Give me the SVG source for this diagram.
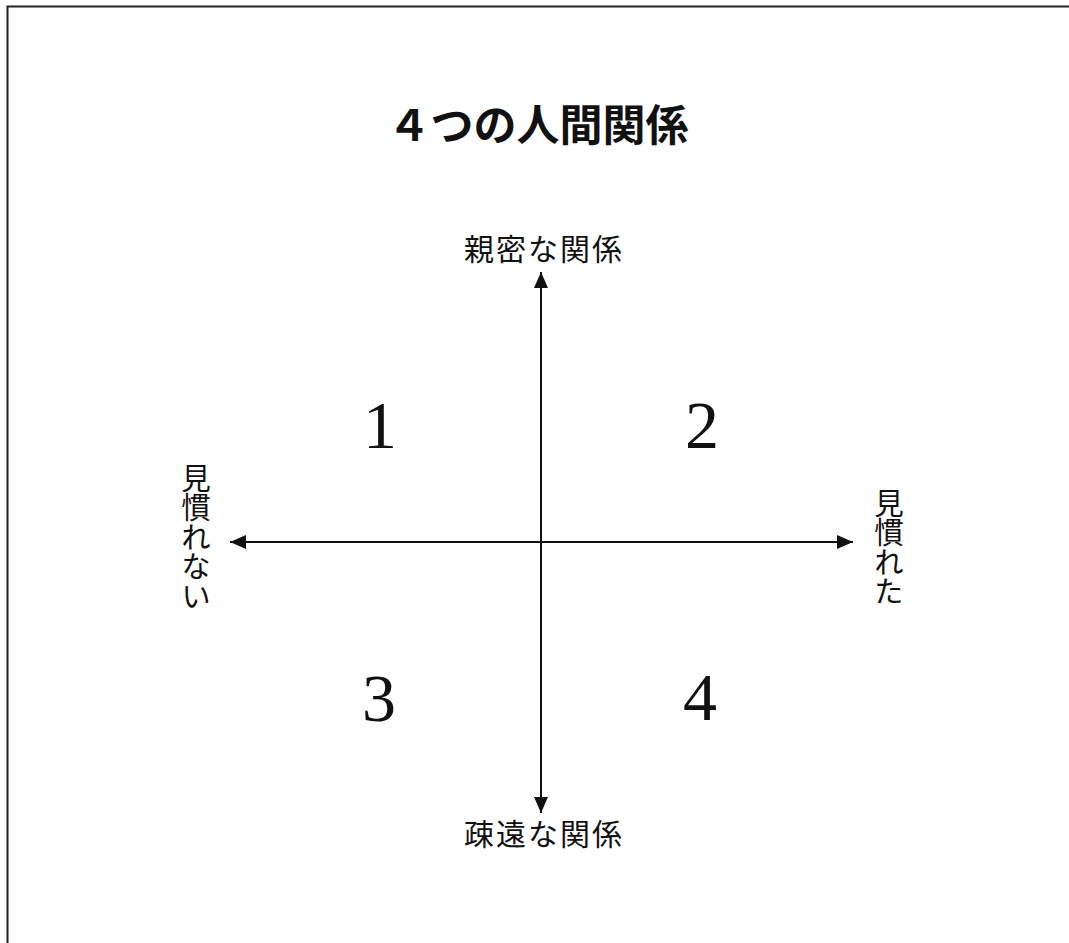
<svg xmlns="http://www.w3.org/2000/svg" width="1069" height="943" viewBox="0 0 1069 943">
<style>
.jp{font-family:"Noto Sans CJK JP","Noto Sans CJK SC",sans-serif;fill:#111;}
.title{font-size:43px;font-weight:700;}
.lab{font-size:30px;font-weight:400;}
.vlab{font-size:29.5px;font-weight:400;writing-mode:vertical-rl;}
.num{font-family:"Liberation Serif","DejaVu Serif",serif;font-size:68px;fill:#111;}
.axis{stroke:#111;stroke-width:2;fill:none;}
</style>
<defs>
<marker id="ah" viewBox="0 0 16 14" refX="16" refY="7" markerWidth="16" markerHeight="14" markerUnits="userSpaceOnUse" orient="auto">
<path d="M0,0 L16,7 L0,14 Z" fill="#111"/>
</marker>
</defs>
<rect x="0" y="0" width="1069" height="943" fill="#fff"/>
<path d="M7.5,943 L7.5,6.5 L1069,6.5" stroke="#222" stroke-width="2" fill="none"/>
<g id="title"><text class="jp title" x="538" y="141" text-anchor="middle">４つの人間関係</text></g>
<g id="connectors">
<line class="axis" x1="541" y1="542" x2="541" y2="272" marker-end="url(#ah)"/>
<line class="axis" x1="541" y1="542" x2="541" y2="813" marker-end="url(#ah)"/>
<line class="axis" x1="541" y1="542" x2="230" y2="542" marker-end="url(#ah)"/>
<line class="axis" x1="541" y1="542" x2="853" y2="542" marker-end="url(#ah)"/>
</g>
<g id="top-label"><text class="jp lab" x="544" y="260" text-anchor="middle" letter-spacing="2">親密な関係</text></g>
<g id="bottom-label"><text class="jp lab" x="544" y="845" text-anchor="middle" letter-spacing="2">疎遠な関係</text></g>
<g id="left-label"><text class="jp vlab" x="196" y="463">見慣れない</text></g>
<g id="right-label"><text class="jp vlab" x="889" y="488">見慣れた</text></g>
<g id="q1"><text class="num" x="380" y="448" text-anchor="middle">1</text></g>
<g id="q2"><text class="num" x="702" y="448" text-anchor="middle">2</text></g>
<g id="q3"><text class="num" x="379" y="721" text-anchor="middle">3</text></g>
<g id="q4"><text class="num" x="700" y="720" text-anchor="middle">4</text></g>
</svg>
